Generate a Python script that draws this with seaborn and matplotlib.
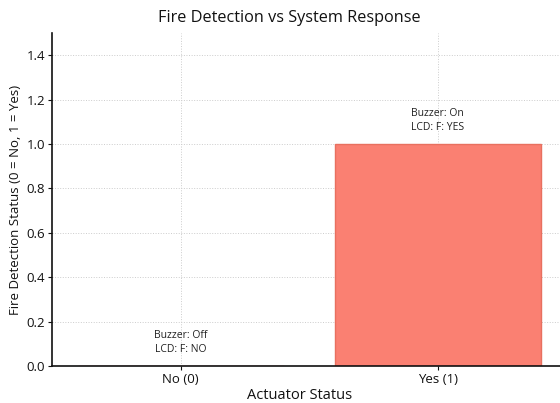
import matplotlib
matplotlib.use("Agg")
import matplotlib.pyplot as plt
import seaborn as sns
import pandas as pd

categories = ["No (0)", "Yes (1)"]
values = [0, 1]
annotations = ["Buzzer: Off\nLCD: F: NO", "Buzzer: On\nLCD: F: YES"]

sns.set_theme(style="whitegrid")
plt.rcParams['font.family'] = ['Open Sans', 'DejaVu Sans']
plt.rcParams['grid.linestyle'] = ':'
plt.rcParams['grid.color'] = '#cccccc'
plt.rcParams['grid.linewidth'] = 0.7

df = pd.DataFrame({"Actuator": categories, "Status": values})

fig = plt.figure(figsize=(5.6, 4.03), dpi=100)
ax = fig.add_axes([52/560, 1 - 366/403, (566.5 - 52)/560, (366 - 33)/403])
sns.barplot(data=df, x="Actuator", y="Status", color="salmon", width=0.8,
            edgecolor="#e8705f", linewidth=1, ax=ax, saturation=1)
ax.set_xlim(-0.5, 1.5)
ax.set_ylim(0, 1.5)
yt = [0, 0.2, 0.4, 0.6, 0.8, 1.0, 1.2, 1.4]
ax.set_yticks(yt)
ax.set_yticklabels([f"{v:.1f}" for v in yt])
for i, (v, t) in enumerate(zip(values, annotations)):
    ax.text(i, v + 0.05, t, ha="center", va="bottom", fontsize=7.5, color="#222222",
            linespacing=1.3)
ax.set_title("Fire Detection vs System Response", fontsize=11.7, color="#111111", pad=8,
             x=(289 - 52) / 514.5)
ax.set_xlabel("Actuator Status", fontsize=10.5, color="#111111", labelpad=2)
ax.xaxis.set_label_coords((300 - 52) / 514.5, -0.065)
ax.set_ylabel("Fire Detection Status (0 = No, 1 = Yes)", fontsize=9.5, color="#111111", labelpad=3)
ax.tick_params(axis="both", labelsize=9.5, colors="#111111", length=3, width=0.8,
               left=True, bottom=True, pad=2)
sns.despine(ax=ax)
for s in ["left", "bottom"]:
    ax.spines[s].set_color("#111111")
    ax.spines[s].set_linewidth(1.2)
ax.grid(True, axis="both")
ax.set_axisbelow(True)
fig.savefig("out.png", dpi=100)
